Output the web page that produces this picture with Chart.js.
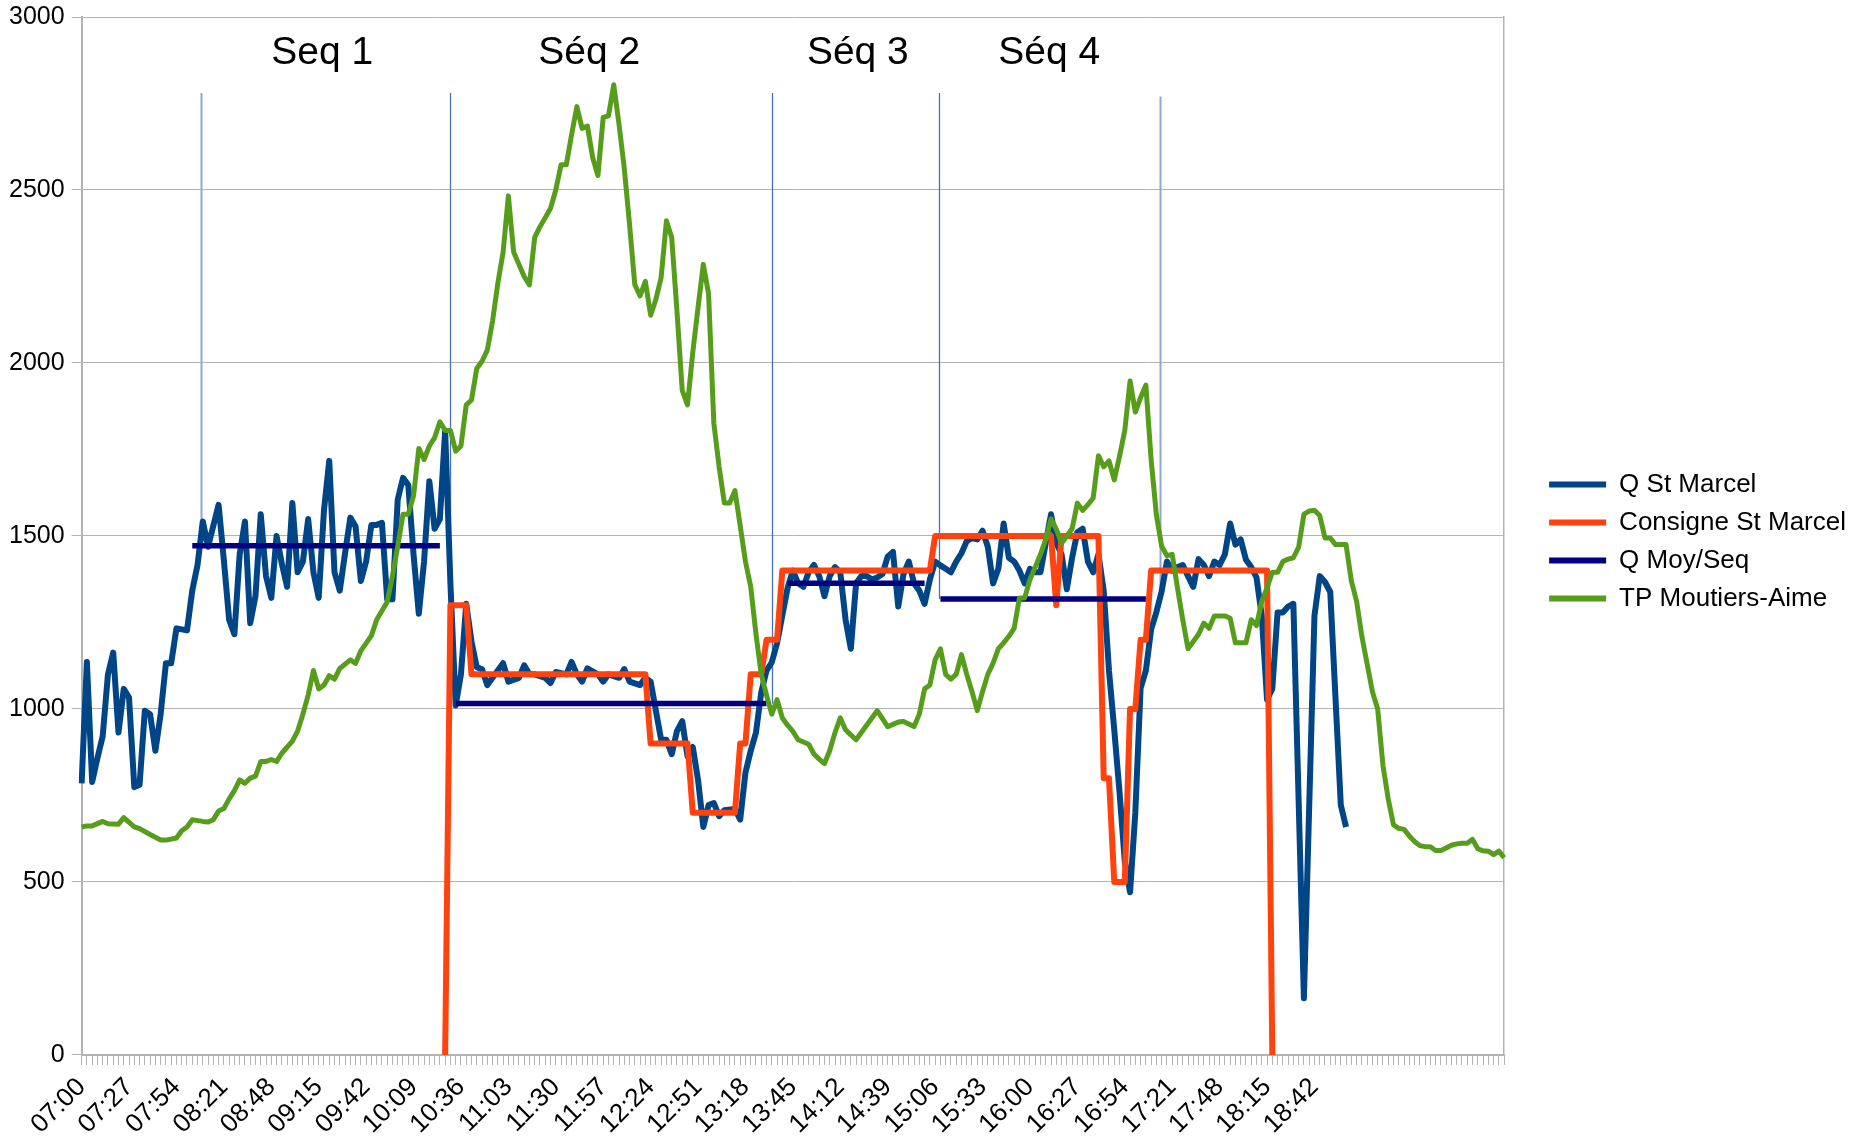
<!DOCTYPE html>
<html lang="fr">
<head>
<meta charset="utf-8">
<title>Q St Marcel / TP Moutiers-Aime</title>
<script src="https://cdn.jsdelivr.net/npm/chart.js@4.4.1/dist/chart.umd.min.js"></script>
<style>
  html, body { margin: 0; padding: 0; background: #fff; }
  #cadre { position: relative; width: 1856px; height: 1141px; }
</style>
</head>
<body>
<div id="cadre"><canvas id="graphique"></canvas></div>
<script>
// axe des temps : un relevé toutes les 3 minutes, de 07:00 à 20:30
const heures = [];
for (let m = 7 * 60; m <= 20 * 60 + 30; m += 3) {
  heures.push(String(Math.floor(m / 60)).padStart(2, '0') + ':' + String(m % 60).padStart(2, '0'));
}

// étiquettes affichées sous l'axe
const etiquettesX = ['07:00', '07:27', '07:54', '08:21', '08:48', '09:15', '09:42', '10:09', '10:36',
  '11:03', '11:30', '11:57', '12:24', '12:51', '13:18', '13:45', '14:12', '14:39', '15:06', '15:33',
  '16:00', '16:27', '16:54', '17:21', '17:48', '18:15', '18:42'];

const qStMarcel = [
  ['07:00', 785], ['07:03', 1136], ['07:06', 789], ['07:09', 858], ['07:12', 921], ['07:15', 1100],
  ['07:18', 1163], ['07:21', 932], ['07:24', 1058], ['07:27', 1033], ['07:30', 774], ['07:33', 781],
  ['07:36', 995], ['07:39', 985], ['07:42', 879], ['07:45', 985], ['07:48', 1132], ['07:51', 1132],
  ['07:54', 1233], ['08:00', 1227], ['08:03', 1342], ['08:06', 1416], ['08:09', 1542], ['08:12', 1469],
  ['08:18', 1590], ['08:21', 1430], ['08:24', 1258], ['08:27', 1216], ['08:30', 1447], ['08:33', 1542],
  ['08:36', 1248], ['08:39', 1326], ['08:42', 1563], ['08:45', 1384], ['08:48', 1321], ['08:51', 1500],
  ['08:54', 1420], ['08:57', 1353], ['09:00', 1595], ['09:03', 1395], ['09:06', 1426], ['09:09', 1549],
  ['09:12', 1395], ['09:15', 1321], ['09:18', 1574], ['09:21', 1717], ['09:24', 1395], ['09:27', 1342],
  ['09:30', 1450], ['09:33', 1553], ['09:36', 1527], ['09:39', 1370], ['09:42', 1426], ['09:45', 1532],
  ['09:48', 1532], ['09:51', 1538], ['09:54', 1317], ['09:57', 1317], ['10:00', 1605], ['10:03', 1668],
  ['10:06', 1647], ['10:09', 1447], ['10:12', 1275], ['10:15', 1426], ['10:18', 1658], ['10:21', 1521],
  ['10:24', 1549], ['10:27', 1805], ['10:30', 1363], ['10:33', 1010], ['10:36', 1100], ['10:39', 1304],
  ['10:42', 1195], ['10:45', 1121], ['10:48', 1115], ['10:51', 1069], ['10:54', 1090], ['11:00', 1132],
  ['11:03', 1079], ['11:09', 1090], ['11:12', 1126], ['11:15', 1100], ['11:18', 1100], ['11:24', 1090],
  ['11:27', 1075], ['11:30', 1107], ['11:36', 1100], ['11:39', 1136], ['11:42', 1100], ['11:45', 1079],
  ['11:48', 1117], ['11:54', 1100], ['11:57', 1079], ['12:00', 1100], ['12:06', 1090], ['12:09', 1115],
  ['12:12', 1079], ['12:18', 1069], ['12:21', 1090], ['12:24', 1079], ['12:30', 911], ['12:33', 911],
  ['12:36', 869], ['12:39', 936], ['12:42', 965], ['12:45', 863], ['12:48', 890], ['12:51', 795],
  ['12:54', 659], ['12:57', 722], ['13:00', 728], ['13:03', 690], ['13:06', 707], ['13:12', 711],
  ['13:15', 680], ['13:18', 816], ['13:21', 879], ['13:24', 932], ['13:27', 1048], ['13:30', 1111],
  ['13:33', 1135], ['13:36', 1190], ['13:39', 1270], ['13:42', 1350], ['13:45', 1400], ['13:48', 1363],
  ['13:51', 1353], ['13:54', 1395], ['13:57', 1416], ['14:00', 1384], ['14:03', 1326], ['14:06', 1384],
  ['14:09', 1410], ['14:12', 1395], ['14:15', 1258], ['14:18', 1174], ['14:21', 1363], ['14:24', 1384],
  ['14:27', 1384], ['14:30', 1374], ['14:33', 1380], ['14:36', 1390], ['14:39', 1440], ['14:42', 1454],
  ['14:45', 1296], ['14:48', 1390], ['14:51', 1426], ['14:54', 1363], ['14:57', 1342], ['15:00', 1304],
  ['15:03', 1374], ['15:06', 1426], ['15:09', 1415], ['15:12', 1405], ['15:15', 1395], ['15:18', 1426],
  ['15:21', 1450], ['15:24', 1485], ['15:27', 1494], ['15:30', 1490], ['15:33', 1515], ['15:36', 1469],
  ['15:39', 1363], ['15:42', 1405], ['15:45', 1536], ['15:48', 1437], ['15:51', 1426], ['15:54', 1400],
  ['15:57', 1363], ['16:00', 1405], ['16:03', 1395], ['16:06', 1395], ['16:09', 1480], ['16:12', 1563],
  ['16:15', 1479], ['16:18', 1447], ['16:21', 1346], ['16:24', 1437], ['16:27', 1511], ['16:30', 1521],
  ['16:33', 1426], ['16:36', 1395], ['16:39', 1447], ['16:42', 1342], ['16:45', 1111], ['16:48', 940],
  ['16:51', 760], ['16:54', 560], ['16:57', 470], ['17:00', 700], ['17:03', 1060], ['17:06', 1111],
  ['17:09', 1230], ['17:12', 1280], ['17:15', 1340], ['17:18', 1426], ['17:21', 1400], ['17:24', 1410],
  ['17:27', 1416], ['17:30', 1384], ['17:33', 1353], ['17:36', 1433], ['17:39', 1416], ['17:42', 1384],
  ['17:45', 1426], ['17:48', 1416], ['17:51', 1447], ['17:54', 1536], ['17:57', 1475], ['18:00', 1490],
  ['18:03', 1431], ['18:06', 1410], ['18:09', 1380], ['18:12', 1269], ['18:15', 1027], ['18:18', 1058],
  ['18:21', 1279], ['18:24', 1279], ['18:27', 1296], ['18:30', 1304], ['18:36', 164], ['18:42', 1269],
  ['18:45', 1384], ['18:48', 1367], ['18:51', 1338], ['18:54', 1030], ['18:57', 722], ['19:00', 659]
];

const consigneStMarcel = [
  ['10:27', 0], ['10:30', 1300], ['10:39', 1300], ['10:42', 1100], ['12:21', 1100], ['12:24', 900],
  ['12:45', 900], ['12:48', 700], ['13:12', 700], ['13:15', 900], ['13:18', 900], ['13:21', 1100],
  ['13:27', 1100], ['13:30', 1200], ['13:36', 1200], ['13:39', 1400], ['15:03', 1400], ['15:06', 1500],
  ['16:12', 1500], ['16:15', 1300], ['16:18', 1500], ['16:39', 1500], ['16:42', 800], ['16:45', 800],
  ['16:48', 500], ['16:54', 500], ['16:57', 1000], ['17:00', 1000], ['17:03', 1200], ['17:06', 1200],
  ['17:09', 1400], ['18:15', 1400], ['18:18', 0]
];

// débit moyen par séquence
const qMoyDebut = ['08:03', '10:33', '13:42', '15:09'];
const qMoyFin = ['10:24', '13:30', '15:00', '17:06'];
const qMoyValeur = [1472, 1016, 1363, 1318];

const tpMoutiers = [
  ['07:00', 659], ['07:03', 662], ['07:06', 662], ['07:12', 675], ['07:15', 668], ['07:21', 667],
  ['07:24', 686], ['07:30', 659], ['07:33', 654], ['07:39', 637], ['07:45', 621], ['07:48', 621],
  ['07:54', 627], ['07:57', 648], ['08:00', 659], ['08:03', 680], ['08:09', 675], ['08:12', 673],
  ['08:15', 680], ['08:18', 705], ['08:21', 712], ['08:24', 740], ['08:27', 764], ['08:30', 795],
  ['08:33', 785], ['08:36', 800], ['08:39', 806], ['08:42', 848], ['08:45', 848], ['08:48', 854],
  ['08:51', 848], ['08:54', 872], ['09:00', 907], ['09:03', 936], ['09:06', 985], ['09:09', 1040],
  ['09:12', 1111], ['09:15', 1058], ['09:18', 1069], ['09:21', 1096], ['09:24', 1086], ['09:27', 1117],
  ['09:33', 1142], ['09:36', 1132], ['09:39', 1168], ['09:45', 1212], ['09:48', 1258], ['09:54', 1309],
  ['09:57', 1384], ['10:00', 1470], ['10:03', 1563], ['10:06', 1563], ['10:09', 1616], ['10:12', 1753],
  ['10:15', 1721], ['10:18', 1760], ['10:21', 1784], ['10:24', 1830], ['10:27', 1805], ['10:30', 1805],
  ['10:33', 1745], ['10:36', 1760], ['10:39', 1879], ['10:42', 1893], ['10:45', 1984], ['10:48', 2005],
  ['10:51', 2037], ['10:54', 2121], ['10:57', 2230], ['11:00', 2320], ['11:03', 2483], ['11:06', 2321],
  ['11:09', 2285], ['11:12', 2250], ['11:15', 2226], ['11:18', 2363], ['11:21', 2394], ['11:24', 2420],
  ['11:27', 2447], ['11:30', 2500], ['11:33', 2573], ['11:36', 2573], ['11:39', 2660], ['11:42', 2741],
  ['11:45', 2678], ['11:48', 2685], ['11:51', 2594], ['11:54', 2542], ['11:57', 2710], ['12:00', 2714],
  ['12:03', 2804], ['12:06', 2690], ['12:09', 2563], ['12:12', 2400], ['12:15', 2226], ['12:18', 2194],
  ['12:21', 2236], ['12:24', 2138], ['12:27', 2184], ['12:30', 2247], ['12:33', 2411], ['12:36', 2363],
  ['12:39', 2150], ['12:42', 1921], ['12:45', 1879], ['12:48', 2030], ['12:51', 2160], ['12:54', 2285],
  ['12:57', 2200], ['13:00', 1826], ['13:03', 1700], ['13:06', 1595], ['13:09', 1595], ['13:12', 1631],
  ['13:15', 1530], ['13:18', 1426], ['13:21', 1353], ['13:24', 1216], ['13:27', 1100], ['13:30', 1040],
  ['13:33', 985], ['13:36', 1027], ['13:39', 974], ['13:42', 953], ['13:45', 935], ['13:48', 911],
  ['13:54', 898], ['13:57', 870], ['14:00', 855], ['14:03', 842], ['14:06', 880], ['14:09', 932],
  ['14:12', 974], ['14:15', 940], ['14:18', 925], ['14:21', 911], ['14:27', 953], ['14:33', 995],
  ['14:39', 949], ['14:45', 962], ['14:48', 964], ['14:54', 949], ['14:57', 985], ['15:00', 1058],
  ['15:03', 1069], ['15:06', 1142], ['15:09', 1174], ['15:12', 1100], ['15:15', 1086], ['15:18', 1100],
  ['15:21', 1157], ['15:24', 1100], ['15:27', 1050], ['15:30', 995], ['15:33', 1050], ['15:36', 1100],
  ['15:39', 1132], ['15:42', 1174], ['15:45', 1191], ['15:48', 1210], ['15:51', 1233], ['15:54', 1321],
  ['15:57', 1321], ['16:00', 1374], ['16:03', 1410], ['16:06', 1447], ['16:09', 1490], ['16:12', 1549],
  ['16:15', 1520], ['16:18', 1479], ['16:21', 1500], ['16:24', 1521], ['16:27', 1595], ['16:30', 1574],
  ['16:33', 1590], ['16:36', 1610], ['16:39', 1732], ['16:42', 1700], ['16:45', 1717], ['16:48', 1662],
  ['16:51', 1730], ['16:54', 1805], ['16:57', 1948], ['17:00', 1858], ['17:03', 1900], ['17:06', 1936],
  ['17:09', 1720], ['17:12', 1560], ['17:15', 1470], ['17:18', 1443], ['17:21', 1447], ['17:24', 1350],
  ['17:27', 1258], ['17:30', 1174], ['17:33', 1195], ['17:36', 1216], ['17:39', 1248], ['17:42', 1233],
  ['17:45', 1269], ['17:48', 1269], ['17:51', 1269], ['17:54', 1262], ['17:57', 1191], ['18:00', 1191],
  ['18:03', 1191], ['18:06', 1258], ['18:09', 1241], ['18:12', 1311], ['18:15', 1350], ['18:18', 1395],
  ['18:21', 1395], ['18:24', 1426], ['18:27', 1433], ['18:30', 1437], ['18:33', 1468], ['18:36', 1563],
  ['18:39', 1572], ['18:42', 1574], ['18:45', 1559], ['18:48', 1494], ['18:51', 1494], ['18:54', 1475],
  ['18:57', 1475], ['19:00', 1475], ['19:03', 1370], ['19:06', 1311], ['19:09', 1210], ['19:12', 1130],
  ['19:15', 1050], ['19:18', 1000], ['19:21', 837], ['19:24', 740], ['19:27', 665], ['19:30', 655],
  ['19:33', 652], ['19:36', 633], ['19:39', 617], ['19:42', 605], ['19:45', 602], ['19:48', 602],
  ['19:51', 591], ['19:54', 591], ['19:57', 598], ['20:00', 606], ['20:03', 610], ['20:06', 612],
  ['20:09', 612], ['20:12', 623], ['20:15', 596], ['20:18', 590], ['20:21', 589], ['20:24', 579],
  ['20:27', 589], ['20:30', 570]
];

// repères de séquences : heure, haut et bas du trait
const separations = ['08:08', '10:30', '13:33', '15:08', '17:14'];
const separationsHaut = [2780, 2780, 2780, 2780, 2770];
const separationsBas = [1472, 1016, 1016, 1318, 1318];
const titresSeq = ['Seq 1', 'Séq 2', 'Séq 3', 'Séq 4'];
const titresHeure = ['09:17', '11:49', '14:22', '16:11'];

const POLICE = '"Liberation Sans", Arial, sans-serif';

function indexHeure(h) {
  const [hh, mm] = h.split(':').map(Number);
  return (hh * 60 + mm - 7 * 60) / 3;
}

function points(serie) {
  return serie.map(([x, y]) => ({ x, y }));
}

const qMoyPoints = [];
qMoyDebut.forEach((debut, i) => {
  if (i > 0) qMoyPoints.push({ x: qMoyFin[i - 1], y: null });
  qMoyPoints.push({ x: debut, y: qMoyValeur[i] }, { x: qMoyFin[i], y: qMoyValeur[i] });
});

const reperes = {
  id: 'reperes',
  beforeDatasetsDraw(chart) {
    const { ctx, scales: { x, y } } = chart;
    ctx.save();
    separations.forEach((h, i) => {
      const px = Math.round(x.getPixelForValue(indexHeure(h))) + 0.5;
      const clair = i === 0 || i === separations.length - 1;
      ctx.strokeStyle = clair ? '#8ea8d2' : '#4a70b4';
      ctx.lineWidth = clair ? 2 : 1.3;
      ctx.beginPath();
      ctx.moveTo(px, y.getPixelForValue(separationsHaut[i]));
      ctx.lineTo(px, y.getPixelForValue(separationsBas[i]));
      ctx.stroke();
    });
    ctx.restore();
  },
  afterDatasetsDraw(chart) {
    const { ctx, scales: { x, y } } = chart;
    ctx.save();
    ctx.fillStyle = '#000';
    ctx.font = '39px ' + POLICE;
    ctx.textAlign = 'center';
    ctx.textBaseline = 'middle';
    titresSeq.forEach((t, i) => {
      ctx.fillText(t, x.getPixelForValue(indexHeure(titresHeure[i])), y.getPixelForValue(2895));
    });
    ctx.restore();
  }
};

Chart.defaults.font.family = POLICE;
Chart.defaults.color = '#000';

const legendeDefaut = Chart.defaults.plugins.legend.labels.generateLabels;

new Chart(document.getElementById('graphique'), {
  type: 'line',
  data: {
    labels: heures,
    datasets: [
      { label: 'Q St Marcel', data: points(qStMarcel), borderColor: '#004586', backgroundColor: '#004586', borderWidth: 6, order: 3 },
      { label: 'Consigne St Marcel', data: points(consigneStMarcel), borderColor: '#ff420e', backgroundColor: '#ff420e', borderWidth: 6, order: 2 },
      { label: 'Q Moy/Seq', data: qMoyPoints, borderColor: '#000080', backgroundColor: '#000080', borderWidth: 5.5, order: 1 },
      { label: 'TP Moutiers-Aime', data: points(tpMoutiers), borderColor: '#579d1c', backgroundColor: '#579d1c', borderWidth: 5, order: 0 }
    ]
  },
  options: {
    responsive: true,
    maintainAspectRatio: false,
    animation: false,
    layout: { padding: { left: 2, top: 0, right: 0, bottom: -6 } },
    elements: {
      point: { radius: 0, hoverRadius: 0 },
      line: { tension: 0, borderJoinStyle: 'round', borderCapStyle: 'butt' }
    },
    plugins: {
      tooltip: { enabled: false },
      legend: {
        position: 'right',
        fullSize: false,
        maxWidth: 340,
        title: { display: true, text: '', font: { size: 1 }, padding: { top: 5, bottom: 5 } },
        labels: {
          boxWidth: 57,
          boxHeight: 6,
          padding: 12,
          font: { size: 26 },
          sort: (a, b) => a.datasetIndex - b.datasetIndex,
          generateLabels: chart => legendeDefaut(chart).map(l => ({ ...l, fillStyle: l.strokeStyle, lineWidth: 0 }))
        }
      }
    },
    scales: {
      x: {
        type: 'category',
        offset: false,
        grid: { drawOnChartArea: false, drawTicks: true, tickLength: 10, color: '#b3b3b3', offset: false },
        border: { color: '#b3b3b3', width: 2 },
        ticks: {
          autoSkip: false,
          minRotation: 45,
          maxRotation: 45,
          padding: 7,
          font: { size: 26 },
          callback(valeur, index) {
            const h = heures[index];
            return etiquettesX.includes(h) ? h : '';
          }
        }
      },
      y: {
        min: 0,
        max: 3000,
        ticks: { stepSize: 500, padding: 7, font: { size: 25, lineHeight: 0.8 }, callback: v => String(v) },
        grid: { color: '#b3b3b3', tickLength: 10 },
        border: { color: '#b3b3b3', width: 2 }
      },
      y2: {
        position: 'right',
        min: 0,
        max: 3000,
        grid: { display: false },
        ticks: { display: false },
        border: { display: true, color: '#b3b3b3', width: 1.5 },
        afterFit(s) { s.width = 33; }
      }
    }
  },
  plugins: [reperes]
});
</script>
</body>
</html>
